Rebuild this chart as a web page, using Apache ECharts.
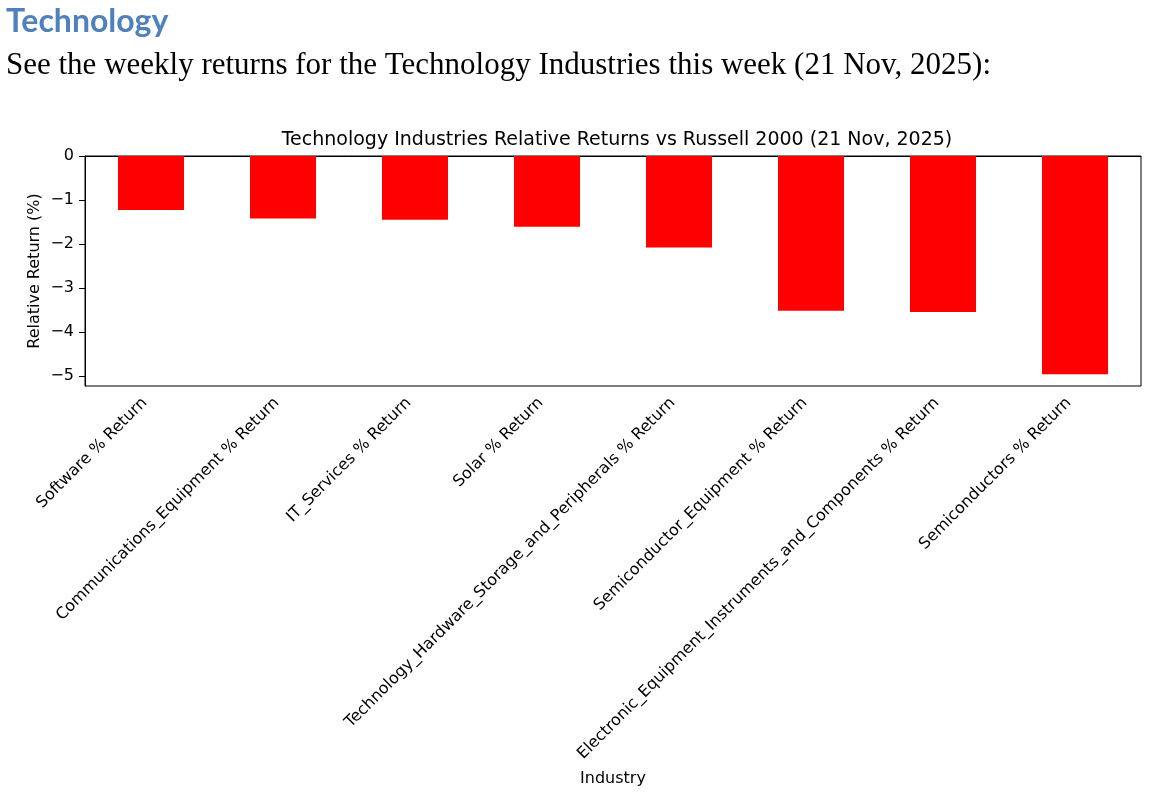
<!DOCTYPE html>
<html>
<head>
<meta charset="utf-8">
<script src="https://cdn.jsdelivr.net/npm/echarts@6/dist/echarts.min.js"></script>
<style>
html,body{margin:0;padding:0;background:#fff;}
#c{width:1153px;height:796px;}
</style>
</head>
<body>
<div id="c"></div>
<script>
const categories = [
  "Software % Return",
  "Communications_Equipment % Return",
  "IT_Services % Return",
  "Solar % Return",
  "Technology_Hardware_Storage_and_Peripherals % Return",
  "Semiconductor_Equipment % Return",
  "Electronic_Equipment_Instruments_and_Components % Return",
  "Semiconductors % Return"
];
const relReturns = [-1.23, -1.42, -1.45, -1.61, -2.08, -3.52, -3.55, -4.96];
const yTicks = [0, -1, -2, -3, -4, -5];

const chart = echarts.init(document.getElementById('c'));
chart.setOption({
  animation: false,
  backgroundColor: '#fff',
  title: [
    {text: 'Technology', left: 1, top: 1,
     textStyle: {fontFamily: 'Lato', fontWeight: 'bold', fontSize: 32, color: '#4F81BD'}},
    {text: 'See the weekly returns for the Technology Industries this week (21 Nov, 2025):', left: 1, top: 45,
     textStyle: {fontFamily: 'Liberation Serif', fontWeight: 'normal', fontSize: 31, color: '#000'}},
    {text: 'Technology Industries Relative Returns vs Russell 2000 (21 Nov, 2025)', left: 612, top: 126, textAlign: 'center',
     textStyle: {fontFamily: 'DejaVu Sans', fontWeight: 'normal', fontSize: 19, color: '#000'}}
  ],
  grid: {left: 85, right: 12, top: 156, bottom: 410, show: true, borderColor: '#000', borderWidth: 1, backgroundColor: 'transparent'},
  xAxis: {
    type: 'category',
    data: categories,
    name: 'Industry',
    nameLocation: 'middle',
    nameGap: 385,
    nameMoveOverlap: false,
    nameTextStyle: {fontFamily: 'DejaVu Sans', fontSize: 16, color: '#000'},
    axisLine: {show: true, lineStyle: {color: '#000', width: 1}},
    axisTick: {show: true, alignWithLabel: true, length: 6, lineStyle: {color: '#000'}},
    axisLabel: {rotate: 45, interval: 0, margin: 8, padding: [0, 9, 0, 0], fontFamily: 'DejaVu Sans', fontSize: 16, color: '#000'},
    splitLine: {show: false}
  },
  yAxis: {
    type: 'value',
    min: -5.23,
    max: 0,
    interval: 1,
    name: 'Relative Return (%)',
    nameLocation: 'middle',
    nameGap: 42,
    nameMoveOverlap: false,
    nameTextStyle: {fontFamily: 'DejaVu Sans', fontSize: 16, color: '#000'},
    axisLine: {show: true, lineStyle: {color: '#000', width: 1}},
    axisLabel: {
      margin: 11, fontFamily: 'DejaVu Sans', fontSize: 16, color: '#000',
      showMaxLabel: true,
      customValues: yTicks,
      formatter: v => String(v).replace('-', '\u2212')
    },
    axisTick: {show: true, length: 6, lineStyle: {color: '#000'}, customValues: yTicks},
    splitLine: {show: false}
  },
  series: [{
    type: 'bar',
    data: relReturns,
    barWidth: '50%',
    itemStyle: {color: '#ff0000'}
  }]
});
</script>
</body>
</html>
